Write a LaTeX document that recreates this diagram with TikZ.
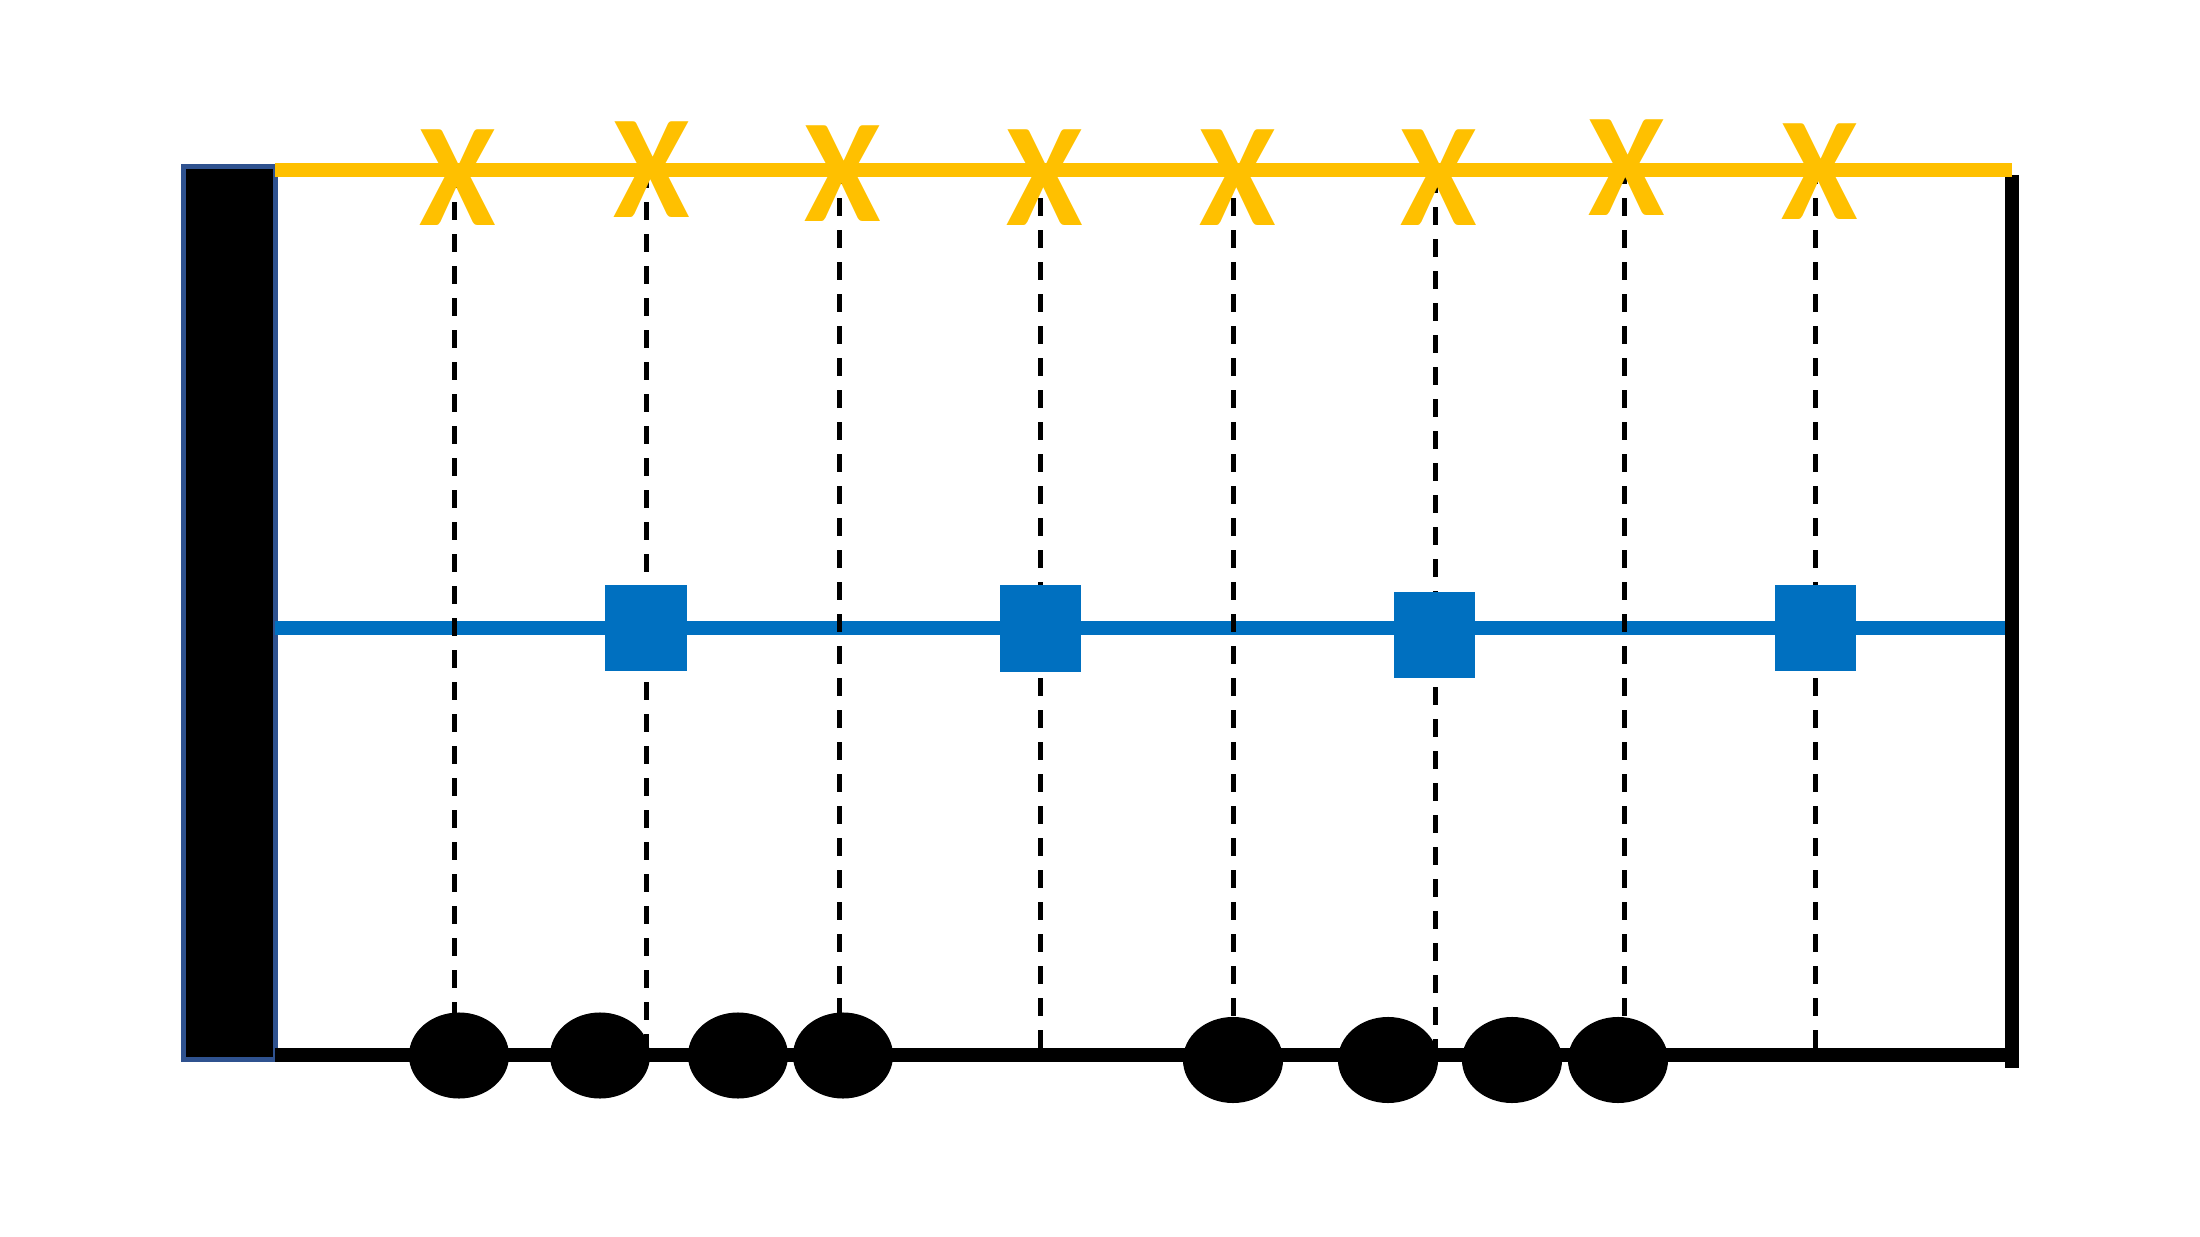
\documentclass[tikz,border=0pt]{standalone}
\usepackage{fontspec}
\newfontfamily\xfont{Carlito}
\usetikzlibrary{shapes.geometric}
\definecolor{xyellow}{HTML}{FFC000}
\definecolor{xblue}{HTML}{0070C0}
\definecolor{xborder}{HTML}{2F528F}
\newcommand{\narrowx}{\scalebox{0.94}[1]{X}}
\begin{document}
\begin{tikzpicture}[x=0.01cm,y=-0.01cm,
 thickline/.style={line width=0.14cm},
 dashline/.style={line width=0.05cm, dash pattern=on 0.18cm off 0.14cm},
 xmark/.style={font=\xfont\bfseries\fontsize{42}{42}\selectfont, text=xyellow, inner sep=0pt, anchor=base},
 sq/.style={rectangle, fill=xblue, draw=none, minimum width=0.81cm, minimum height=0.86cm, inner sep=0pt},
 bead/.style={ellipse, fill=black, draw=none, minimum width=1cm, minimum height=0.86cm, inner sep=0pt}]
\useasboundingbox (0,0) rectangle (2200,1237);
% left bar
\node (bar) [rectangle, fill=black, draw=xborder, line width=0.05cm, minimum width=0.92cm, minimum height=8.93cm, inner sep=0pt] at (229.5,613) {};
% line end points
\coordinate (yl) at (275,170); \coordinate (yr) at (2012,170);
\coordinate (bl) at (275,628); \coordinate (br) at (2012,628);
\coordinate (kl) at (275,1055); \coordinate (kr) at (2012,1055);
\coordinate (vt) at (2012,175); \coordinate (vb) at (2012,1068);
\draw[thickline, xblue] (bl) -- (br);
\draw[thickline, black] (kl) -- (kr);
\draw[thickline, black] (vt) -- (vb);
% dashed verticals
\foreach \i/\x/\y in {1/454/170, 2/646/170, 3/839/166, 4/1040/166, 5/1233/166, 6/1435/175, 7/1624/166, 8/1815/166}{
  \coordinate (dt\i) at (\x,\y);
  \coordinate (db\i) at (\x,1050);
  \draw[dashline] (dt\i) -- (db\i);
}
\draw[thickline, xyellow] (yl) -- (yr);
% X marks
\foreach \i/\x/\y in {1/458/226, 2/652/218, 3/843/222, 4/1045/226, 5/1237.5/226, 6/1439/226, 7/1627/216, 8/1820/220}{
  \node (x\i) [xmark] at (\x,\y) {\narrowx};
}
% blue squares
\node (s1) [sq] at (646,628) {};
\node (s2) [sq] at (1040.5,628.5) {};
\node (s3) [sq] at (1434.5,635) {};
\node (s4) [sq] at (1815,628) {};
% black beads
\node (e1) [bead] at (459,1055.5) {};
\node (e2) [bead] at (600,1055.5) {};
\node (e3) [bead] at (738,1055.5) {};
\node (e4) [bead] at (843,1055.5) {};
\node (e5) [bead] at (1233,1060) {};
\node (e6) [bead] at (1388,1060) {};
\node (e7) [bead] at (1512,1060) {};
\node (e8) [bead] at (1618,1060) {};
\end{tikzpicture}
\end{document}
